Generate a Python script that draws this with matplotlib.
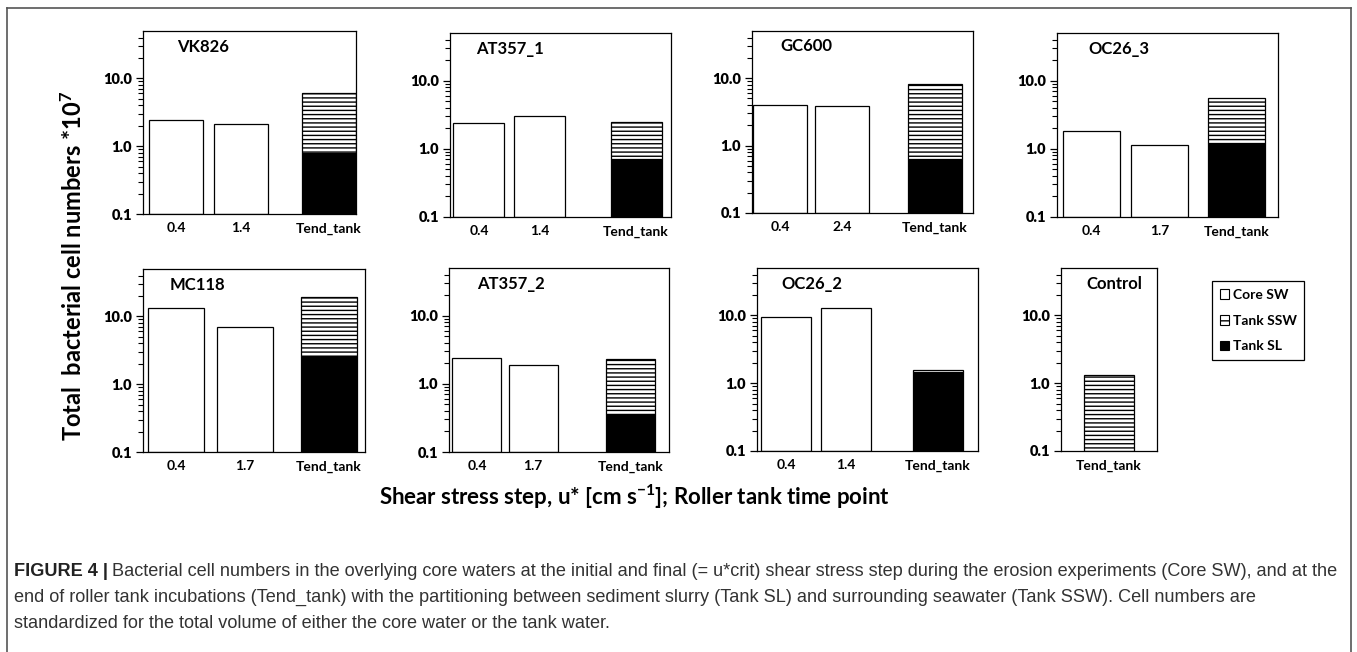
import matplotlib
matplotlib.use("Agg")
import matplotlib.pyplot as plt
from matplotlib.patches import Patch
from matplotlib.lines import Line2D
from matplotlib.text import Annotation
from matplotlib.ticker import FixedLocator, NullFormatter

# ---------------- data ----------------
samples = ["VK826", "AT357_1", "GC600", "OC26_3", "MC118", "AT357_2", "OC26_2", "Control"]
core_steps = [["0.4", "1.4"], ["0.4", "1.4"], ["0.4", "2.4"], ["0.4", "1.7"],
              ["0.4", "1.7"], ["0.4", "1.7"], ["0.4", "1.4"], []]
core_sw = [[2.4, 2.15], [2.4, 3.0], [4.0, 3.85], [1.8, 1.15],
           [13.5, 6.9], [2.4, 1.9], [9.5, 12.9], []]
tank_sl = [0.80, 0.71, 0.63, 1.20, 2.6, 0.36, 1.45, 0.0]
tank_ssw = [5.2, 1.74, 7.67, 4.3, 16.9, 1.94, 0.12, 1.3]
tank_label = "Tend_tank"
y_ticks = [0.1, 1.0, 10.0]
y_ticklabels = ["0.1", "1.0", "10.0"]
legend_labels = ["Core SW", "Tank SSW", "Tank SL"]

# ---------------- layout (pixels) ----------------
W, H = 1357, 652
axes_px = [(143, 356, 31, 214), (450, 671, 33, 217), (752, 973, 31, 213), (1057, 1278, 33, 217),
           (143, 365, 269, 452), (449, 669, 268, 452), (757, 978, 268, 451), (1061, 1157, 268, 451)]
bar_centers = [[0.155, 0.46, 0.873], [0.131, 0.407, 0.842], [0.127, 0.407, 0.828], [0.154, 0.466, 0.814],
               [0.149, 0.459, 0.838], [0.127, 0.382, 0.827], [0.131, 0.403, 0.819], [0.5]]
bar_widths = [0.254, 0.231, 0.244, 0.258, 0.25, 0.223, 0.226, 0.52]
title_x = [0.16, 0.12, 0.127, 0.14, 0.12, 0.127, 0.11, 0.26]

plt.rcParams['font.family'] = ['Lato', 'DejaVu Sans']
plt.rcParams['mathtext.fontset'] = 'custom'
plt.rcParams['mathtext.rm'] = 'Lato:bold'
plt.rcParams['mathtext.it'] = 'Lato:bold:italic'
plt.rcParams['mathtext.bf'] = 'Lato:bold'
plt.rcParams['hatch.linewidth'] = 1.0

fig = plt.figure(figsize=(W / 100, H / 100), dpi=100)
fig.patch.set_facecolor('white')

YMIN, YMAX = 0.1, 50
HATCH = '----'
LW = 0.9

for i, name in enumerate(samples):
    l, r, t, b = axes_px[i]
    ax = fig.add_axes([l / W, 1 - b / H, (r - l) / W, (b - t) / H])
    ax.set_yscale('log')
    ax.set_ylim(YMIN, YMAX)
    ax.set_xlim(0, 1)
    cx = bar_centers[i]
    bw = bar_widths[i]
    n = len(core_sw[i])
    if n:
        ax.bar(cx[:n], [v - YMIN for v in core_sw[i]], width=bw, bottom=YMIN,
               color='white', edgecolor='black', linewidth=LW, zorder=2)
    xt = cx[n]
    sl = tank_sl[i]
    base = YMIN
    if sl > YMIN:
        ax.bar([xt], [sl - YMIN], width=bw, bottom=YMIN, color='black',
               edgecolor='black', linewidth=LW, zorder=2)
        base = sl
    top = sl + tank_ssw[i]
    ax.bar([xt], [top - base], width=bw, bottom=base, color='white', hatch=HATCH,
           edgecolor='black', linewidth=LW, zorder=2)

    ax.set_xticks(cx[:n + 1], core_steps[i] + [tank_label])
    ax.tick_params(axis='x', length=0, pad=6, labelsize=10)
    for lab in ax.get_xticklabels():
        lab.set_fontweight('bold')
    ax.yaxis.set_major_locator(FixedLocator(y_ticks))
    ax.set_yticklabels(y_ticklabels)
    minors = [k * 10.0 ** e for e in (-1, 0, 1) for k in range(2, 10) if k * 10.0 ** e < YMAX]
    ax.yaxis.set_minor_locator(FixedLocator(minors))
    ax.yaxis.set_minor_formatter(NullFormatter())
    ax.tick_params(axis='y', which='major', length=5, width=0.9, pad=3, labelsize=10.5)
    ax.tick_params(axis='y', which='minor', length=3.5, width=0.8)
    for lab in ax.get_yticklabels():
        lab.set_fontweight('heavy')
    for sp in ax.spines.values():
        sp.set_linewidth(0.9)
        sp.set_color('black')
    ax.text(title_x[i], 0.915, name, transform=ax.transAxes, fontsize=12,
            fontweight='bold', ha='left', va='center')

# legend
handles = [Patch(facecolor='white', edgecolor='black', linewidth=0.8),
           Patch(facecolor='white', edgecolor='black', hatch='--', linewidth=0.8),
           Patch(facecolor='black', edgecolor='black', linewidth=0.8)]
leg = fig.legend(handles, legend_labels, loc='upper left',
                 bbox_to_anchor=(1212 / W, 1 - 281 / H), frameon=True, fancybox=False,
                 edgecolor='black', framealpha=1, borderpad=0.55, handlelength=0.7,
                 handleheight=0.7, handletextpad=0.25, labelspacing=1.0, borderaxespad=0,
                 prop={'weight': 'bold', 'size': 10})
leg.get_frame().set_linewidth(0.9)

# axis labels
fig.text(73 / W, 1 - 266 / H, "Total  bacterial cell numbers *10$^{7}$", rotation=90,
         ha='center', va='center', fontsize=17, fontweight='bold')
fig.text(635 / W, 1 - 497 / H, "Shear stress step, u* [cm s$^{-1}$]; Roller tank time point",
         ha='center', va='center', fontsize=16, fontweight='bold')

# frame
fc = '#555555'
fig.add_artist(Line2D([7 / W, 1351 / W], [1 - 8 / H, 1 - 8 / H], transform=fig.transFigure, color=fc, lw=1.2))
fig.add_artist(Line2D([7 / W, 7 / W], [1 - 8 / H, 0], transform=fig.transFigure, color=fc, lw=1.2))
fig.add_artist(Line2D([1351 / W, 1351 / W], [1 - 8 / H, 0], transform=fig.transFigure, color=fc, lw=1.2))

# caption
cap_font = ['Liberation Sans', 'DejaVu Sans']
cap_size = 13.1
cap_color = '#333333'
line1 = ("Bacterial cell numbers in the overlying core waters at the initial and final (= u*crit) shear stress "
         "step during the erosion experiments (Core SW), and at the")
line2 = ("end of roller tank incubations (Tend_tank) with the partitioning between sediment slurry (Tank SL) "
         "and surrounding seawater (Tank SSW). Cell numbers are")
line3 = "standardized for the total volume of either the core water or the tank water."
t1 = fig.text(14 / W, 1 - 580 / H, "FIGURE 4 |", family=cap_font, fontsize=cap_size,
              fontweight='bold', color='#222222', va='bottom', ha='left')
ann = Annotation(line1, xy=(1, 0), xycoords=t1, xytext=(3, 0), textcoords='offset points',
                 family=cap_font, fontsize=cap_size, color=cap_color, va='bottom', ha='left')
fig.add_artist(ann)
fig.text(14 / W, 1 - 606 / H, line2, family=cap_font, fontsize=cap_size, color=cap_color,
         va='bottom', ha='left')
fig.text(14 / W, 1 - 632 / H, line3, family=cap_font, fontsize=cap_size, color=cap_color,
         va='bottom', ha='left')

fig.savefig('out.png', dpi=100, facecolor='white')
